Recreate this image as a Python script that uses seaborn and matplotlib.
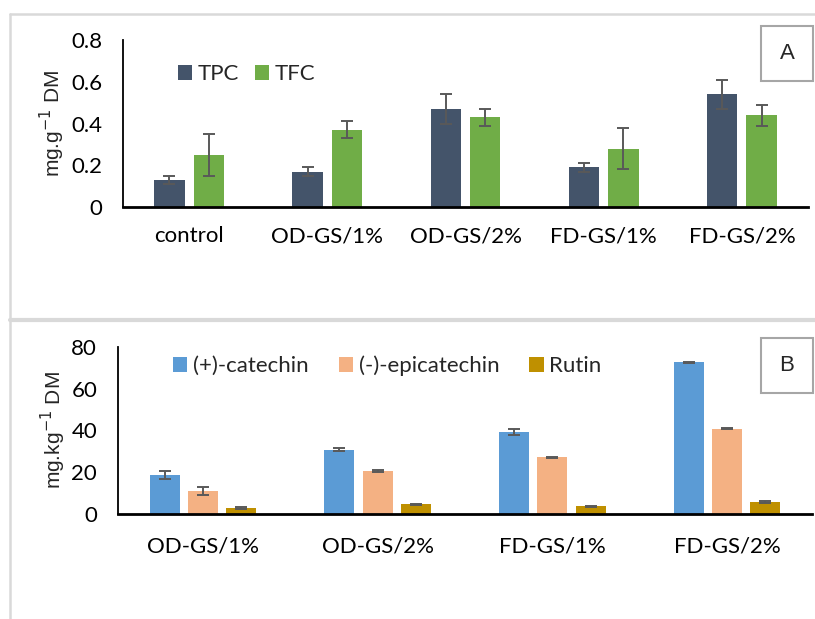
import seaborn as sns
import matplotlib.pyplot as plt
import pandas as pd
from matplotlib.lines import Line2D
from matplotlib.patches import Rectangle

# panel A data
groups_a = ["control", "OD-GS/1%", "OD-GS/2%", "FD-GS/1%", "FD-GS/2%"]
tpc = [0.13, 0.17, 0.47, 0.19, 0.54]
tpc_err = [0.02, 0.02, 0.07, 0.02, 0.07]
tfc = [0.25, 0.37, 0.43, 0.28, 0.44]
tfc_err = [0.10, 0.04, 0.04, 0.10, 0.05]

# panel B data
groups_b = ["OD-GS/1%", "OD-GS/2%", "FD-GS/1%", "FD-GS/2%"]
catechin = [18.7, 30.8, 39.2, 72.6]
catechin_err = [1.8, 0.6, 1.3, 0.3]
epicatechin = [11.1, 20.6, 27.1, 40.9]
epicatechin_err = [1.8, 0.4, 0.4, 0.3]
rutin = [2.9, 4.6, 3.6, 5.7]
rutin_err = [0.5, 0.4, 0.3, 0.4]

W, H = 815, 619
TICK_FONT = "Lato"
LABEL_FONT = "Liberation Sans"


def px_rect(left, top, right, bottom):
    return [left / W, 1 - bottom / H, (right - left) / W, (bottom - top) / H]


def draw_panel(ax, groups, series, errs, colors, ymax, yticks, yfmt, ylabel,
               width, gap, xpad, legend_anchor, colspacing):
    names = list(series.keys())
    df = pd.DataFrame({
        "group": [g for n in names for g in groups],
        "series": [n for n in names for g in groups],
        "value": [v for n in names for v in series[n]],
    })
    sns.barplot(data=df, x="group", y="value", hue="series", ax=ax,
                palette=colors, saturation=1, width=width, gap=gap,
                errorbar=None, linewidth=0)
    for cont, n in zip(ax.containers, names):
        xs = [p.get_x() + p.get_width() / 2 for p in cont.patches]
        hs = [p.get_height() for p in cont.patches]
        ax.errorbar(xs, hs, yerr=errs[n], fmt="none", ecolor="#595959",
                    elinewidth=1.4, capsize=4.5, capthick=1.4, zorder=5)
    ax.set_ylim(0, ymax)
    ax.set_yticks(yticks)
    ax.set_yticklabels([yfmt(t) for t in yticks], fontfamily=TICK_FONT, fontsize=16)
    ax.set_xticks(range(len(groups)))
    ax.set_xticklabels(groups, fontfamily=TICK_FONT, fontsize=16)
    ax.set_xlabel("")
    ax.set_ylabel(ylabel, fontfamily=LABEL_FONT, fontsize=15)
    ax.tick_params(axis="x", length=0, pad=xpad, labelcolor="black")
    ax.tick_params(axis="y", length=6, width=1.3, pad=9, color="black",
                   direction="out", labelcolor="black")
    for s in ["top", "right"]:
        ax.spines[s].set_visible(False)
    ax.spines["left"].set_linewidth(1.3)
    ax.spines["bottom"].set_linewidth(2)
    ax.spines["left"].set_color("black")
    ax.spines["bottom"].set_color("black")
    ax.set_facecolor("white")
    handles, labels = ax.get_legend_handles_labels()
    ax.get_legend().remove()
    leg = ax.legend(handles, labels, loc="center left", bbox_to_anchor=legend_anchor,
                    bbox_transform=ax.figure.transFigure, ncol=len(names),
                    frameon=False, handlelength=0.65, handleheight=0.65,
                    handletextpad=0.25, columnspacing=colspacing, borderpad=0,
                    borderaxespad=0, prop={"family": TICK_FONT, "size": 16})
    return leg


sns.set_style("white")
fig = plt.figure(figsize=(W / 100, H / 100), dpi=100)

ax_a = fig.add_axes(px_rect(123, 40, 808, 207))
draw_panel(ax_a, groups_a, {"TPC": tpc, "TFC": tfc}, {"TPC": tpc_err, "TFC": tfc_err},
           ["#44546A", "#70AD47"], 0.8, [0, 0.2, 0.4, 0.6, 0.8],
           lambda t: "0" if t == 0 else f"{t:.1f}", r"mg.g$^{-1}$ DM",
           0.572, 0.23, 14, (178 / W, 1 - 74 / H), 0.7)
ax_a.yaxis.set_label_coords((67 - 123) / 685, 0.5)

ax_b = fig.add_axes(px_rect(118, 347, 812, 514))
draw_panel(ax_b, groups_b, {"(+)-catechin": catechin, "(-)-epicatechin": epicatechin,
                            "Rutin": rutin},
           {"(+)-catechin": catechin_err, "(-)-epicatechin": epicatechin_err,
            "Rutin": rutin_err},
           ["#5B9BD5", "#F4B183", "#BF9000"], 80, [0, 20, 40, 60, 80],
           lambda t: f"{t:d}", r"mg.kg$^{-1}$ DM",
           0.657, 0.21, 16, (173 / W, 1 - 366 / H), 1.35)
ax_b.yaxis.set_label_coords((68 - 118) / 694, 0.5)

# panel frames
frame = "#D9D9D9"
fig.add_artist(Line2D([10 / W, 1], [1 - 14 / H, 1 - 14 / H], color=frame, lw=1.8,
                      transform=fig.transFigure))
fig.add_artist(Line2D([10 / W, 10 / W], [0, 1 - 14 / H], color=frame, lw=1.8,
                      transform=fig.transFigure))
fig.add_artist(Line2D([10 / W, 1], [1 - 320 / H, 1 - 320 / H], color=frame, lw=3,
                      transform=fig.transFigure))

# panel letters
for letter, (l, t, r, b) in {"A": (761, 26, 813, 81), "B": (761, 338, 813, 393)}.items():
    x0, y0, w, h = px_rect(l, t, r, b)
    fig.add_artist(Rectangle((x0, y0), w, h, transform=fig.transFigure,
                             facecolor="white", edgecolor="#A6A6A6", lw=1.5))
    fig.text(x0 + w / 2, y0 + h / 2, letter, ha="center", va="center",
             fontfamily=LABEL_FONT, fontsize=16)

fig.savefig("out.png", dpi=100)
